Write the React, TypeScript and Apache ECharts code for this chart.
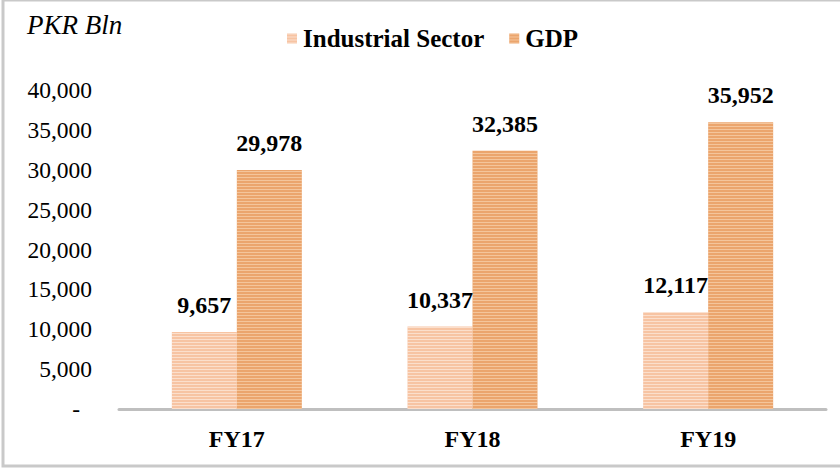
import React, { useEffect, useRef } from "react";
import * as echarts from "echarts";

const categories = ["FY17", "FY18", "FY19"];
const industrial = [9657, 10337, 12117];
const gdp = [29978, 32385, 35952];
const yTicks = [0, 5000, 10000, 15000, 20000, 25000, 30000, 35000, 40000];

const SERIF = "Liberation Serif, Times New Roman, serif";

export default function App() {
  const ref = useRef<HTMLDivElement>(null);
  useEffect(() => {
    const chart = echarts.init(ref.current!, null, { renderer: "svg" });
    const fmt = (v: number) => v.toLocaleString("en-US");
    chart.setOption({
      animation: false,
      backgroundColor: "#ffffff",
      textStyle: { fontFamily: SERIF },
      graphic: [
        {
          type: "rect",
          shape: { x: 3, y: 0, width: 845, height: 466 },
          style: { fill: "none", stroke: "#c9c9c9", lineWidth: 3 },
          z: 10,
        },
        {
          type: "text",
          x: 27,
          y: 25,
          style: {
            text: "PKR Bln",
            fontFamily: SERIF,
            fontStyle: "italic",
            fontSize: 27,
            fill: "#000",
            verticalAlign: "middle",
          },
        },
      ],
      legend: {
        left: 287,
        top: 26,
        padding: 0,
        itemWidth: 10,
        itemHeight: 10,
        itemGap: 25,
        icon: "rect",
        textStyle: { fontFamily: SERIF, fontWeight: "bold", fontSize: 25, color: "#000", padding: [0, 0, 0, 1] },
        data: ["Industrial Sector", "GDP"],
      },
      grid: { left: 119, right: 14, top: 90, bottom: 60 },
      xAxis: {
        type: "category",
        data: categories,
        axisLine: { lineStyle: { color: "#bfbfbf", width: 3 } },
        axisTick: { show: false },
        axisLabel: { fontFamily: SERIF, fontWeight: "bold", fontSize: 24, color: "#000", margin: 18 },
      },
      yAxis: {
        type: "value",
        min: yTicks[0],
        max: yTicks[yTicks.length - 1],
        interval: yTicks[1] - yTicks[0],
        axisLine: { show: false },
        axisTick: { show: false },
        splitLine: { show: false },
        axisLabel: {
          margin: 27,
          fontFamily: SERIF,
          fontSize: 23.5,
          color: "#000",
          formatter: (v: number) => (v === 0 ? "{d|-}" : fmt(v)),
          rich: { d: { fontFamily: SERIF, fontSize: 23.5, color: "#000", padding: [0, 12, 0, 0] } },
        },
      },
      series: [
        {
          name: "Industrial Sector",
          type: "bar",
          data: industrial,
          barWidth: 65,
          barGap: "0%",
          itemStyle: {
            color: "#f7c4a3",
            decal: {
              symbol: "rect",
              symbolSize: 1,
              dashArrayX: [1, 0],
              dashArrayY: [1, 2],
              color: "rgba(255,255,255,0.45)",
            },
          },
          label: {
            show: true,
            position: "top",
            distance: 15,
            formatter: (p: any) => fmt(p.value),
            fontFamily: SERIF,
            fontWeight: "bold",
            fontSize: 24,
            color: "#000",
          },
        },
        {
          name: "GDP",
          type: "bar",
          data: gdp,
          barWidth: 65,
          itemStyle: {
            color: "#eba56d",
            decal: {
              symbol: "rect",
              symbolSize: 1,
              dashArrayX: [1, 0],
              dashArrayY: [1, 2],
              color: "rgba(255,235,210,0.45)",
            },
          },
          label: {
            show: true,
            position: "top",
            distance: 15,
            formatter: (p: any) => fmt(p.value),
            fontFamily: SERIF,
            fontWeight: "bold",
            fontSize: 24,
            color: "#000",
          },
        },
      ],
    });
    return () => chart.dispose();
  }, []);
  return (
    <div style={{ position: "fixed", left: 0, top: 0, width: 840, height: 469 }}>
      <div ref={ref} style={{ width: 840, height: 469 }} />
    </div>
  );
}
